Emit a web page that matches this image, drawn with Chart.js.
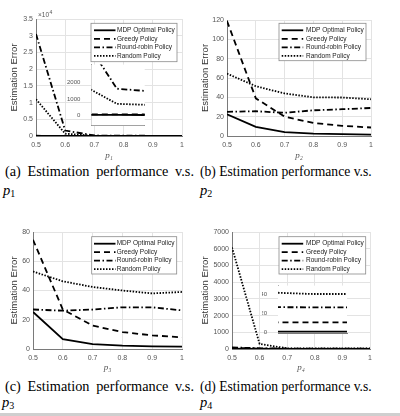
<!DOCTYPE html>
<html>
<head>
<meta charset="utf-8">
<script src="https://cdn.jsdelivr.net/npm/chart.js@4.4.1/dist/chart.umd.min.js"></script>
<style>
  body { margin: 0; width: 400px; height: 416px; background: #fff; position: relative; overflow: hidden; }
  .panel { position: absolute; }
  .cap { position: absolute; font-family: "Liberation Serif", "Times New Roman", serif; font-size: 13.6px; line-height: 19px; color: #000; white-space: nowrap; }
  .cap.wide { width: 189px; font-size: 14.3px; text-align: justify; text-align-last: justify; }
  .cap i { font-size: 14.5px; }
  .cap sub { font-size: 10px; vertical-align: -2px; line-height: 0; }
  .rule { position: absolute; left: 0; top: 413px; width: 400px; height: 3px; background: #cfcfcf; }
</style>
</head>
<body>
<div class="panel" style="left:0;top:0;width:200px;height:162px"><canvas id="chartP1"></canvas></div>
<div class="panel" style="left:200px;top:0;width:200px;height:162px"><canvas id="chartP2"></canvas></div>
<div class="panel" style="left:0;top:212px;width:200px;height:162px"><canvas id="chartP3"></canvas></div>
<div class="panel" style="left:200px;top:212px;width:200px;height:162px"><canvas id="chartP4"></canvas></div>
<div class="panel" style="left:66px;top:58px;width:84px;height:80px"><canvas id="insetP1"></canvas></div>
<div class="panel" style="left:262px;top:279px;width:90px;height:66px"><canvas id="insetP4"></canvas></div>

<div class="cap wide" style="left:5px;top:162px">(a) Estimation performance v.s.</div>
<div class="cap" style="left:3px;top:181px"><i>p</i><sub>1</sub></div>
<div class="cap" style="left:200px;top:162px">(b) Estimation performance v.s.</div>
<div class="cap" style="left:200px;top:181px"><i>p</i><sub>2</sub></div>
<div class="cap wide" style="left:5px;top:377px">(c) Estimation performance v.s.</div>
<div class="cap" style="left:2px;top:393px"><i>p</i><sub>3</sub></div>
<div class="cap" style="left:200px;top:377px">(d) Estimation performance v.s.</div>
<div class="cap" style="left:200px;top:393px"><i>p</i><sub>4</sub></div>
<div class="rule"></div>

<script>
const pValues = [0.5, 0.6, 0.7, 0.8, 0.9, 1];
const policyNames = ['MDP Optimal Policy', 'Greedy Policy', 'Round-robin Policy', 'Random Policy'];

// (a) error vs p1
const mdpP1 = [15, 8, 5, 3, 2, 2];
const greedyP1 = [70, 40, 25, 15, 10, 8];
const roundRobinP1 = [30500, 1630, 150, 90, 60, 40];
const randomP1 = [11000, 695, 60, 40, 30, 25];

// (b) error vs p2
const mdpP2 = [22.5, 9.5, 4, 2.5, 2, 1.5];
const greedyP2 = [119, 39, 20, 13.5, 10.5, 8.8];
const roundRobinP2 = [25, 25.6, 24, 26.6, 27.7, 29];
const randomP2 = [64.5, 51.5, 44, 40, 39.8, 38];

// (c) error vs p3
const mdpP3 = [25.3, 6.8, 3.4, 2.3, 1.8, 1.6];
const greedyP3 = [74.7, 27, 16, 11.6, 9.3, 8];
const roundRobinP3 = [27, 26.2, 27, 28.5, 28.5, 26.4];
const randomP3 = [53, 46.3, 42.4, 40, 38, 39];

// (d) error vs p4
const mdpP4 = [20, 6, 1.1, 1.1, 1.1, 1.1];
const greedyP4 = [60, 25, 10.8, 10.5, 10.3, 10];
const roundRobinP4 = [90, 45, 26.6, 26.6, 26.6, 26.6];
const randomP4 = [6080, 300, 40.5, 40, 40, 40];

// tick values
const xTicks = [0.5, 0.6, 0.7, 0.8, 0.9, 1];
const yTicksP1 = [0, 5000, 10000, 15000, 20000, 25000, 30000, 35000];
const yTicksP2 = [0, 20, 40, 60, 80, 100, 120];
const yTicksP3 = [0, 20, 40, 60, 80];
const yTicksP4 = [0, 1000, 2000, 3000, 4000, 5000, 6000, 7000];
const insetXTicksP1 = [0.6];
const insetYTicksP1 = [0, 1000, 2000];
const insetXTicksP4 = [0.7];
const insetYTicksP4 = [0, 20, 40];

const dashes = [[], [6, 4], [6, 2.5, 1.5, 2.5], [1.5, 1.5]];
const tickFont = { family: '"Liberation Sans", Arial, sans-serif', size: 7 };
const gridColor = '#e3e3e3';
const axisColor = '#7a7a7a';

function makeDatasets(series) {
  return series.map((vals, i) => ({
    label: policyNames[i],
    data: pValues.map((p, j) => ({ x: p, y: vals[j] })),
    borderColor: '#000',
    borderWidth: 1.8,
    borderDash: dashes[i],
    pointRadius: 0,
    tension: 0,
    fill: false
  }));
}

// legend drawn as a white box inside the plot, MATLAB style
const boxedLegend = {
  id: 'boxedLegend',
  beforeDatasetsDraw(chart, args, opts) {
    if (!opts.white) return;
    const a = chart.chartArea;
    chart.ctx.save();
    chart.ctx.fillStyle = '#fff';
    chart.ctx.fillRect(a.left, a.top, a.right - a.left, a.bottom - a.top);
    chart.ctx.restore();
  },
  afterDatasetsDraw(chart, args, opts) {
    const ctx = chart.ctx;
    if (opts.exponent) {
      const a = chart.chartArea;
      ctx.save();
      ctx.fillStyle = '#555';
      ctx.textBaseline = 'alphabetic';
      ctx.font = '6.5px "Liberation Sans", Arial, sans-serif';
      ctx.fillText('×10', a.left + 2, a.top - 2);
      const w = ctx.measureText('×10').width;
      ctx.font = '5px "Liberation Sans", Arial, sans-serif';
      ctx.fillText('4', a.left + 2 + w + 0.5, a.top - 5);
      ctx.restore();
    }
    const b = opts.box;
    if (!b) return;
    ctx.save();
    ctx.fillStyle = '#fff';
    ctx.fillRect(b.x, b.y, b.w, b.h);
    ctx.strokeStyle = '#8a8a8a';
    ctx.lineWidth = 0.8;
    ctx.strokeRect(b.x, b.y, b.w, b.h);
    ctx.font = '6.5px "Liberation Sans", Arial, sans-serif';
    ctx.textBaseline = 'middle';
    chart.data.datasets.forEach((ds, i) => {
      const y = b.y + 7 + i * 8.5;
      ctx.strokeStyle = ds.borderColor;
      ctx.lineWidth = ds.borderWidth;
      ctx.setLineDash(ds.borderDash);
      ctx.beginPath();
      ctx.moveTo(b.x + b.lineX, y);
      ctx.lineTo(b.x + b.lineX + 21.5, y);
      ctx.stroke();
      ctx.setLineDash([]);
      ctx.fillStyle = '#222';
      ctx.fillText(ds.label, b.x + b.textX, y);
    });
    ctx.restore();
  }
};

function mainChart(id, series, o) {
  return new Chart(document.getElementById(id), {
    type: 'line',
    data: { datasets: makeDatasets(series) },
    plugins: [boxedLegend],
    options: {
      responsive: true,
      maintainAspectRatio: false,
      animation: false,
      layout: { padding: { top: o.top, right: o.right, left: 0, bottom: 0 } },
      scales: {
        x: {
          type: 'linear',
          min: 0.5,
          max: 1,
          afterBuildTicks: s => { s.ticks = xTicks.map(v => ({ value: v })); },
          afterFit: s => { s.height = o.xHeight; },
          grid: { color: gridColor, drawTicks: false },
          border: { color: axisColor },
          ticks: { font: tickFont, color: '#555', padding: 5, maxRotation: 0, callback: v => String(v) },
          title: {
            display: true,
            text: o.xTitle,
            color: '#555',
            font: { family: '"Liberation Serif", serif', style: 'italic', size: 9 },
            padding: { top: 0, bottom: 1 }
          }
        },
        y: {
          min: 0,
          max: o.yTicks[o.yTicks.length - 1],
          afterBuildTicks: s => { s.ticks = o.yTicks.map(v => ({ value: v })); },
          afterFit: s => { s.width = o.yWidth; },
          grid: { color: gridColor, drawTicks: false },
          border: { color: axisColor },
          ticks: { font: tickFont, color: '#555', padding: 3, callback: o.yFormat || (v => String(v)) },
          title: {
            display: true,
            text: 'Estimation Error',
            color: '#333',
            font: { family: '"Liberation Sans", Arial, sans-serif', size: 9.5 },
            padding: { top: o.yTitlePad, bottom: 0 }
          }
        }
      },
      plugins: {
        legend: { display: false },
        tooltip: { enabled: false },
        boxedLegend: { box: o.legend, exponent: o.exponent }
      }
    }
  });
}

function insetChart(id, series, o) {
  return new Chart(document.getElementById(id), {
    type: 'line',
    data: { datasets: makeDatasets(series) },
    plugins: [boxedLegend],
    options: {
      responsive: true,
      maintainAspectRatio: false,
      animation: false,
      layout: { padding: { top: o.top, right: o.right, left: 0, bottom: 0 } },
      scales: {
        x: {
          type: 'linear',
          min: o.xMin,
          max: o.xMax,
          afterBuildTicks: s => { s.ticks = o.xTicks.map(v => ({ value: v })); },
          afterFit: s => { s.height = o.xHeight; },
          grid: { display: false },
          border: { color: axisColor },
          ticks: { font: { family: tickFont.family, size: 6 }, color: '#555', padding: 3, maxRotation: 0, callback: v => String(v) }
        },
        y: {
          min: o.yMin,
          max: o.yMax,
          afterBuildTicks: s => { s.ticks = o.yTicks.map(v => ({ value: v })); },
          afterFit: s => { s.width = o.yWidth; },
          grid: { display: false },
          border: { color: axisColor },
          ticks: { font: { family: tickFont.family, size: 6 }, color: '#555', padding: 3, callback: v => String(v) }
        }
      },
      plugins: {
        legend: { display: false },
        tooltip: { enabled: false },
        boxedLegend: { white: true }
      }
    }
  });
}

mainChart('chartP1', [mdpP1, greedyP1, roundRobinP1, randomP1], {
  top: 19, right: 18, xHeight: 26, yWidth: 36, yTitlePad: 9, xTitle: 'p₁',
  yTicks: yTicksP1, yFormat: v => String(v / 10000), exponent: true,
  legend: { x: 91, y: 23.3, w: 86, h: 38.4, lineX: 3, textX: 26 }
});
mainChart('chartP2', [mdpP2, greedyP2, roundRobinP2, randomP2], {
  top: 20, right: 29, xHeight: 26, yWidth: 27, yTitlePad: 0, xTitle: 'p₂',
  yTicks: yTicksP2,
  legend: { x: 79, y: 23.3, w: 87, h: 37.4, lineX: 2.7, textX: 27 }
});
mainChart('chartP3', [mdpP3, greedyP3, roundRobinP3, randomP3], {
  top: 20, right: 18, xHeight: 25, yWidth: 33, yTitlePad: 9, xTitle: 'p₃',
  yTicks: yTicksP3,
  legend: { x: 91.7, y: 24.7, w: 85, h: 37.3, lineX: 2.3, textX: 25 }
});
mainChart('chartP4', [mdpP4, greedyP4, roundRobinP4, randomP4], {
  top: 20, right: 30, xHeight: 25, yWidth: 32, yTitlePad: 0, xTitle: 'p₄',
  yTicks: yTicksP4,
  legend: { x: 79, y: 24.7, w: 86.7, h: 37.3, lineX: 2.7, textX: 27 }
});

insetChart('insetP1', [mdpP1, greedyP1, roundRobinP1, randomP1], {
  top: 6, right: 5.3, xHeight: 12.7, yWidth: 25.3,
  xMin: 0.5916, xMax: 0.6091, yMin: -630, yMax: 3120,
  xTicks: insetXTicksP1, yTicks: insetYTicksP1
});
insetChart('insetP4', [mdpP4, greedyP4, roundRobinP4, randomP4], {
  top: 6, right: 5, xHeight: 12, yWidth: 16,
  xMin: 0.6995, xMax: 0.7005, yMin: -0.3, yMax: 49.3,
  xTicks: insetXTicksP4, yTicks: insetYTicksP4
});
</script>
</body>
</html>
